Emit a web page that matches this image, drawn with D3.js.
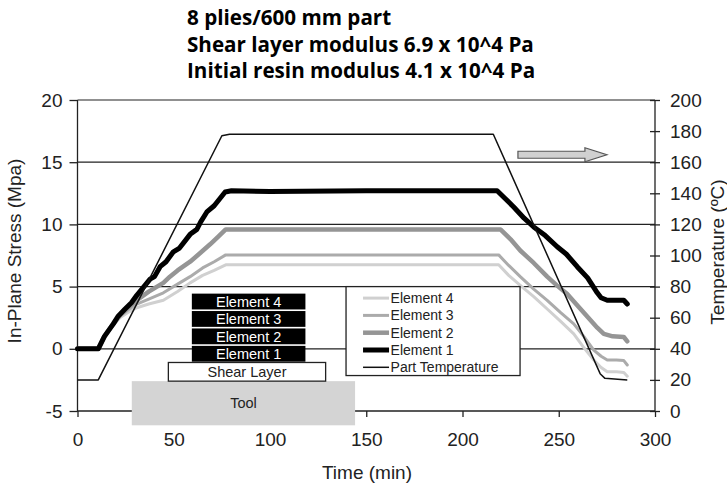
<!DOCTYPE html>
<html>
<head>
<meta charset="utf-8">
<script src="https://cdn.jsdelivr.net/npm/d3@7"></script>
<style>
  body { margin: 0; background: #fff; }
  svg { display: block; }
</style>
</head>
<body>
<script>
// Title lines
const titleLines = ["8 plies/600 mm part", "Shear layer modulus 6.9 x 10^4 Pa", "Initial resin modulus 4.1 x 10^4 Pa"];

// Part temperature (time in min, temperature in ºC, right axis)
const tempTime = [0, 10.8, 75, 79, 216, 271.5, 274, 285.6];
const tempC = [20, 20, 177, 178, 178, 24, 21, 20];

// Element 1 in-plane stress (MPa)
const e1Time = [0, 10.8, 14, 18.6, 21, 24.7, 28, 30.8, 34, 37.7, 40, 42.9, 46, 49.8, 53, 58.5, 62, 64, 67.2, 71, 76.7, 80, 100, 150, 218, 222, 226.6, 232, 237, 243, 249.2, 254, 259.6, 265, 270, 272, 275.2, 280, 283.8, 285.6];
const e1Stress = [0, 0, 1.0, 2.0, 2.6, 3.2, 3.7, 4.3, 4.9, 5.6, 5.8, 6.6, 7.0, 7.8, 8.1, 9.2, 9.6, 10.2, 11.0, 11.5, 12.6, 12.7, 12.65, 12.7, 12.7, 12.1, 11.4, 10.5, 9.8, 9.1, 8.2, 7.6, 6.6, 5.7, 4.5, 4.1, 3.9, 3.9, 3.9, 3.6];

// Element 2
const e2Time = [0, 10.8, 14, 18.6, 22, 26, 30.8, 37, 44.6, 48, 52, 58.5, 63, 68.9, 73, 77, 100, 150, 219.7, 225, 230, 237, 244, 249, 254.4, 259, 264.8, 270, 273.4, 278, 283.8, 285.6];
const e2Stress = [0, 0, 1.0, 2.0, 2.7, 3.3, 3.9, 4.6, 5.3, 5.8, 6.3, 7.0, 7.6, 8.4, 9.0, 9.6, 9.6, 9.6, 9.6, 8.8, 7.9, 6.9, 5.8, 5.1, 4.4, 3.6, 2.6, 1.7, 1.2, 1.0, 0.95, 0.6];

// Element 3
const e3Time = [0, 10.8, 14, 18.6, 22, 26, 30.8, 37, 44.6, 52, 58.5, 65, 71, 77, 100, 150, 218.8, 224, 230, 237, 244, 251, 257.8, 263, 268.2, 272, 275.2, 280, 283.8, 285.6];
const e3Stress = [0, 0, 1.0, 2.0, 2.6, 3.1, 3.6, 4.0, 4.5, 5.2, 5.8, 6.5, 7.0, 7.55, 7.55, 7.55, 7.55, 6.7, 5.8, 4.8, 3.9, 2.9, 2.0, 1.0, -0.1, -0.6, -0.9, -0.9, -0.95, -1.3];

// Element 4
const e4Time = [0, 10.8, 14, 18.6, 22, 26, 30.8, 37, 44.6, 52, 58.5, 65, 71, 77, 100, 150, 218.8, 224, 230, 237, 244, 251, 257.8, 263, 268.2, 272, 275.2, 280, 283.8, 285.6];
const e4Stress = [0, 0, 1.0, 1.9, 2.5, 2.9, 3.3, 3.6, 3.9, 4.6, 5.3, 5.9, 6.3, 6.75, 6.75, 6.75, 6.75, 5.9, 5.1, 4.2, 3.2, 2.2, 1.2, 0.1, -0.9, -1.5, -1.85, -1.85, -1.9, -2.2];

// Axis ticks
const timeTicks = [0, 50, 100, 150, 200, 250, 300];
const stressTicks = [-5, 0, 5, 10, 15, 20];
const tempTicks = [0, 20, 40, 60, 80, 100, 120, 140, 160, 180, 200];

// Inset layup sketch (time / stress units)
const layerNames = ["Element 4", "Element 3", "Element 2", "Element 1"];
const layerSpan = [59.4, 118.4];
const layerTop = 4.5, layerStep = 1.4;
const shearSpan = [47.2, 128.9], shearStress = [-1.1, -2.6];
const toolSpan = [28.2, 144.2], toolStress = [-2.6, -6.15];

// Legend and arrow placement (time / stress units)
const legendSpan = [139.5, 229.9], legendStress = [5.0, -2.15];
const arrowSpan = [228.8, 275], arrowHead = 263.6, arrowStress = 15.6;

const width = 727, height = 486;
const x = d3.scaleLinear().domain([0, 300]).range([77.5, 655]);
const y = d3.scaleLinear().domain([-5, 20]).range([411, 100]);
const yT = d3.scaleLinear().domain([0, 200]).range([411, 100]);

const svg = d3.select("body").append("svg")
    .attr("width", width)
    .attr("height", height);

const axisFont = "'Liberation Sans', Arial, Helvetica, sans-serif";

// Title: size the font so the second line is about 347px wide
const title = svg.append("g")
    .style("font-family", "'Open Sans', sans-serif")
    .style("font-weight", "bold")
    .style("font-size", "19px");
const titleText = title.selectAll("text")
    .data(titleLines)
    .join("text")
    .attr("x", 187)
    .attr("y", (d, i) => 25 + i * 26.5)
    .attr("fill", "#000")
    .text(d => d);
const w2 = titleText.nodes()[1].getComputedTextLength();
title.style("font-size", `${Math.min(21, 19 * 347 / w2)}px`);

// Gridlines
svg.append("g")
    .selectAll("line")
    .data([0, 5, 10, 15, 20])
    .join("line")
    .attr("x1", x(0)).attr("x2", x(300))
    .attr("y1", d => y(d)).attr("y2", d => y(d))
    .attr("stroke", "#222").attr("stroke-width", 1.2);

// Frame
svg.append("path")
    .attr("d", `M${x(0)},${y(20)}V${y(-5)}H${x(300)}V${y(20)}`)
    .attr("fill", "none")
    .attr("stroke", "#222")
    .attr("stroke-width", 1.3);

// Left axis
svg.append("g")
    .attr("transform", `translate(${x(0)},0)`)
    .call(d3.axisLeft(y).tickValues(stressTicks).tickFormat(d => String(d)).tickSize(8).tickPadding(7).tickSizeOuter(0))
    .call(g => g.select(".domain").remove())
    .call(g => g.selectAll(".tick line").attr("stroke", "#222").attr("stroke-width", 1.3))
    .call(g => g.selectAll("text").style("font", `19px ${axisFont}`).attr("fill", "#222"));

// Right axis
svg.append("g")
    .attr("transform", `translate(${x(300)},0)`)
    .call(d3.axisRight(yT).tickValues(tempTicks).tickSize(5).tickPadding(10).tickSizeOuter(0))
    .call(g => g.select(".domain").remove())
    .call(g => g.selectAll(".tick line").attr("x1", -5).attr("stroke", "#222").attr("stroke-width", 1.3))
    .call(g => g.selectAll("text").style("font", `19px ${axisFont}`).attr("fill", "#222"));

// Bottom axis
svg.append("g")
    .attr("transform", `translate(0,${y(-5)})`)
    .call(d3.axisBottom(x).tickValues(timeTicks).tickSize(6).tickPadding(16).tickSizeOuter(0))
    .call(g => g.select(".domain").remove())
    .call(g => g.selectAll(".tick line").attr("stroke", "#222").attr("stroke-width", 1.3))
    .call(g => g.selectAll("text").style("font", `19px ${axisFont}`).attr("fill", "#222"));

// Axis titles
svg.append("text")
    .attr("transform", `translate(14,251) rotate(-90)`)
    .attr("text-anchor", "middle")
    .attr("dy", "0.35em")
    .style("font", `19px ${axisFont}`)
    .attr("fill", "#222")
    .text("In-Plane Stress (Mpa)");

svg.append("text")
    .attr("transform", `translate(717,252) rotate(-90)`)
    .attr("text-anchor", "middle")
    .attr("dy", "0.35em")
    .style("font", `19px ${axisFont}`)
    .attr("fill", "#222")
    .text("Temperature (ºC)");

svg.append("text")
    .attr("x", 367)
    .attr("y", 479)
    .attr("text-anchor", "middle")
    .style("font", `19px ${axisFont}`)
    .attr("fill", "#222")
    .text("Time (min)");

// Inset layup sketch
svg.append("rect")
    .attr("x", x(toolSpan[0])).attr("y", y(toolStress[0]))
    .attr("width", x(toolSpan[1]) - x(toolSpan[0]))
    .attr("height", y(toolStress[1]) - y(toolStress[0]))
    .attr("fill", "#d4d4d4");
svg.append("text")
    .attr("x", x((toolSpan[0] + toolSpan[1]) / 2))
    .attr("y", y((toolStress[0] + toolStress[1]) / 2))
    .attr("text-anchor", "middle").attr("dy", "0.35em")
    .style("font", `14.5px ${axisFont}`).attr("fill", "#222")
    .text("Tool");

svg.append("rect")
    .attr("x", x(shearSpan[0])).attr("y", y(shearStress[0]))
    .attr("width", x(shearSpan[1]) - x(shearSpan[0]))
    .attr("height", y(shearStress[1]) - y(shearStress[0]))
    .attr("fill", "#fff").attr("stroke", "#222").attr("stroke-width", 1.3);
svg.append("text")
    .attr("x", x((shearSpan[0] + shearSpan[1]) / 2))
    .attr("y", y((shearStress[0] + shearStress[1]) / 2))
    .attr("text-anchor", "middle").attr("dy", "0.35em")
    .style("font", `14.5px ${axisFont}`).attr("fill", "#222")
    .text("Shear Layer");

const layer = svg.append("g")
    .selectAll("g")
    .data(layerNames)
    .join("g");
layer.append("rect")
    .attr("x", x(layerSpan[0]))
    .attr("y", (d, i) => y(layerTop - i * layerStep) + 0.8)
    .attr("width", x(layerSpan[1]) - x(layerSpan[0]))
    .attr("height", y(0) - y(layerStep) - 1.6)
    .attr("fill", "#000");
layer.append("text")
    .attr("x", x((layerSpan[0] + layerSpan[1]) / 2))
    .attr("y", (d, i) => y(layerTop - (i + 0.5) * layerStep))
    .attr("text-anchor", "middle").attr("dy", "0.36em")
    .style("font", `14.5px ${axisFont}`).attr("fill", "#fff")
    .text(d => d);

// Curves
const series = [
    { name: "Element 4", t: e4Time, v: e4Stress, color: "#d0d0d0", w: 3 },
    { name: "Element 3", t: e3Time, v: e3Stress, color: "#ababab", w: 3 },
    { name: "Element 2", t: e2Time, v: e2Stress, color: "#959595", w: 4.5 },
    { name: "Element 1", t: e1Time, v: e1Stress, color: "#000", w: 5 }
];
const line = d3.line().x(d => x(d[0])).y(d => y(d[1]));
svg.append("g")
    .attr("fill", "none")
    .attr("stroke-linejoin", "round")
    .attr("stroke-linecap", "round")
    .selectAll("path")
    .data(series)
    .join("path")
    .attr("stroke", d => d.color)
    .attr("stroke-width", d => d.w)
    .attr("d", d => line(d3.zip(d.t, d.v)));

const tempLine = d3.line().x(d => x(d[0])).y(d => yT(d[1]));
svg.append("path")
    .attr("fill", "none")
    .attr("stroke", "#111")
    .attr("stroke-width", 1.5)
    .attr("stroke-linejoin", "round")
    .attr("d", tempLine(d3.zip(tempTime, tempC)));

// Arrow pointing to the temperature axis
const ay = y(arrowStress);
svg.append("path")
    .attr("d", `M${x(arrowSpan[0])},${ay - 3.5}H${x(arrowHead)}V${ay - 7}L${x(arrowSpan[1])},${ay}L${x(arrowHead)},${ay + 7}V${ay + 3.5}H${x(arrowSpan[0])}Z`)
    .attr("fill", "#d0d0d0")
    .attr("stroke", "#555")
    .attr("stroke-width", 1.2);

// Legend
const lx0 = x(legendSpan[0]), ly0 = y(legendStress[0]);
const legend = svg.append("g");
legend.append("rect")
    .attr("x", lx0).attr("y", ly0)
    .attr("width", x(legendSpan[1]) - lx0)
    .attr("height", y(legendStress[1]) - ly0)
    .attr("fill", "#fff").attr("stroke", "#222").attr("stroke-width", 1.3);
const legendItems = [...series, { name: "Part Temperature", color: "#111", w: 1.5 }];
const item = legend.selectAll("g.item")
    .data(legendItems)
    .join("g")
    .attr("class", "item")
    .attr("transform", (d, i) => `translate(${lx0},${ly0 + 11.5 + i * 17.3})`);
item.append("line")
    .attr("x1", 17).attr("x2", 43)
    .attr("stroke", d => d.color)
    .attr("stroke-width", d => d.w);
item.append("text")
    .attr("x", 44.5).attr("dy", "0.36em")
    .style("font", `14px ${axisFont}`).attr("fill", "#222")
    .text(d => d.name);
</script>
</body>
</html>
